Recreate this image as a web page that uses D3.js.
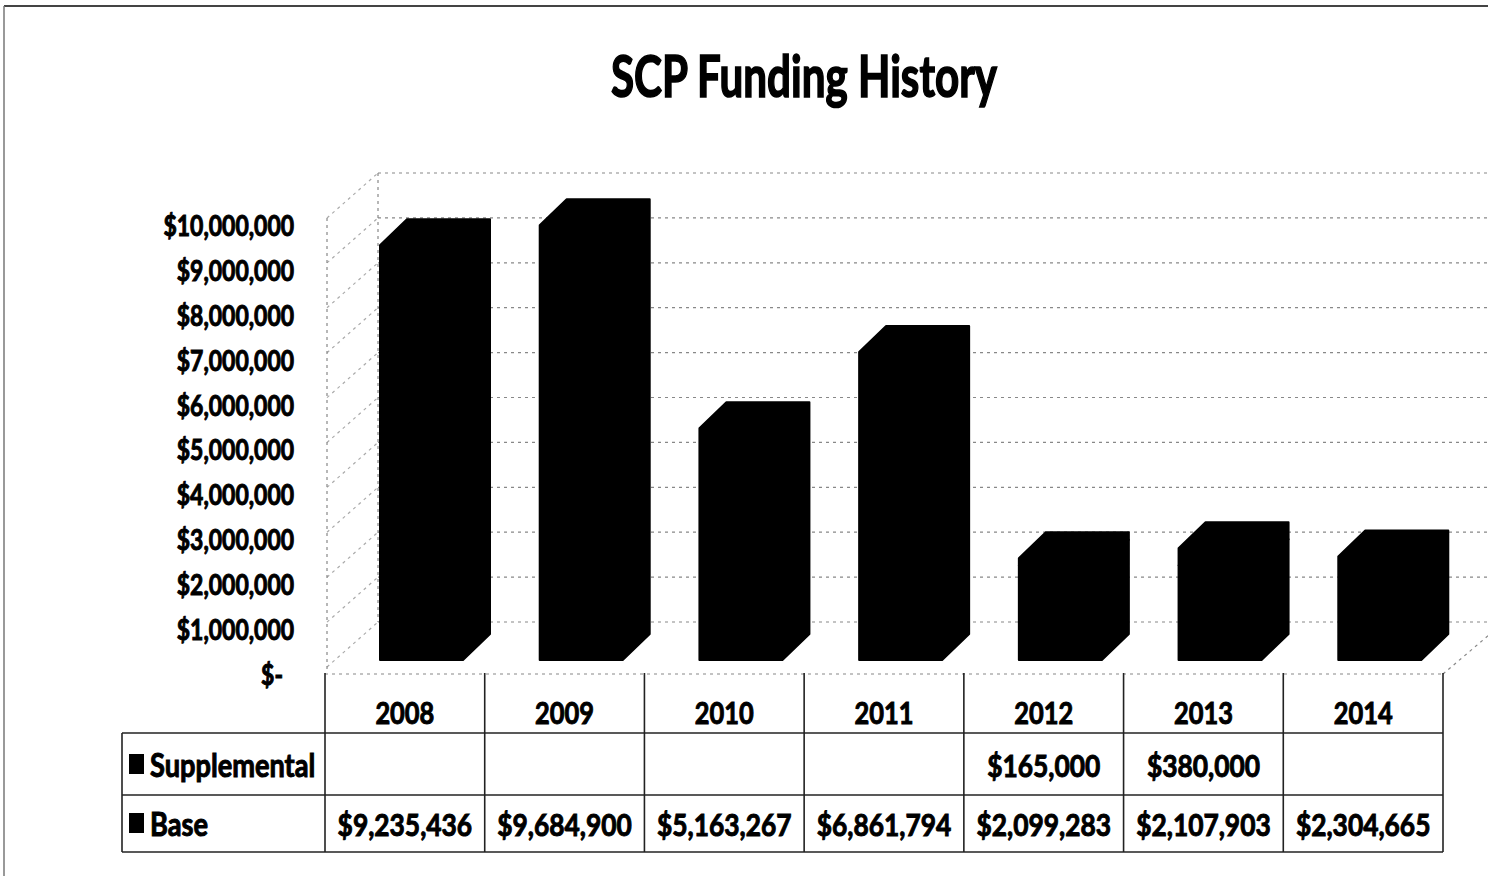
<!DOCTYPE html>
<html>
<head>
<meta charset="utf-8">
<script src="https://cdn.jsdelivr.net/npm/d3@7"></script>
<style>
  body { margin: 0; background: #fff; }
  text { font-family: Lato, "Open Sans", sans-serif; font-weight: bold; fill: #000; stroke: #000; stroke-width: 1; }
</style>
</head>
<body>
<svg id="chart" width="1488" height="876"></svg>
<script>
const years = ["2008", "2009", "2010", "2011", "2012", "2013", "2014"];
const base = [9235436, 9684900, 5163267, 6861794, 2099283, 2107903, 2304665];
const supplemental = [null, null, null, null, 165000, 380000, null];
const seriesNames = ["Supplemental", "Base"];
const yMax = 10000000;

const svg = d3.select("#chart");

// front plane of the 3d box
const x = d3.scaleBand().domain(years).range([325, 1443]);
const y = d3.scaleLinear().domain([0, yMax]).range([667, 218]);
const wall = { dx: 53, dy: -45 };   // front -> back wall
const barOff = { x: 55, y: -7, w: 83, dx: 27, dy: -26 };

const fmt = d3.format("$,");

// chart frame from the scan
svg.append("line").attr("x1", 4).attr("x2", 1488).attr("y1", 6).attr("y2", 6)
    .attr("stroke", "#444").attr("stroke-width", 2);
svg.append("line").attr("x1", 4).attr("x2", 4).attr("y1", 6).attr("y2", 876)
    .attr("stroke", "#777").attr("stroke-width", 1.5);

// title
svg.append("text")
    .attr("transform", "translate(804,97) scale(0.74,1)")
    .attr("text-anchor", "middle")
    .style("font-size", "57px")
    .style("stroke-width", 1.6)
    .text("SCP Funding History");

const grid = svg.append("g")
    .attr("fill", "none")
    .attr("stroke", "#888")
    .attr("stroke-width", 1.2)
    .attr("stroke-dasharray", "3,4");

const ticks = y.ticks(10);
const x0 = x.range()[0], x1 = x.range()[1];

// back wall lines
grid.selectAll(".back").data(ticks).join("line")
    .attr("x1", x0 + wall.dx).attr("x2", x1 + wall.dx)
    .attr("y1", d => y(d) + wall.dy).attr("y2", d => y(d) + wall.dy);

// side wall lines
grid.selectAll(".side").data(ticks).join("line")
    .attr("stroke", "#aaa")
    .attr("x1", x0 + 2).attr("x2", x0 + wall.dx)
    .attr("y1", d => y(d)).attr("y2", d => y(d) + wall.dy);

// wall edges + floor
grid.append("line").attr("x1", x0 + 2).attr("x2", x0 + 2)
    .attr("y1", y(yMax)).attr("y2", y(0) + 6);
grid.append("line").attr("x1", x0 + wall.dx).attr("x2", x0 + wall.dx)
    .attr("y1", y(yMax) + wall.dy).attr("y2", y(0) + wall.dy);
grid.append("line").attr("x1", x0).attr("x2", x1)
    .attr("y1", y(0) + 7).attr("y2", y(0) + 7);
grid.append("line").attr("x1", x1).attr("x2", x1 + wall.dx)
    .attr("y1", y(0) + 7).attr("y2", y(0) + 7 + wall.dy);

// y labels
svg.append("g").selectAll("text").data(ticks).join("text")
    .attr("transform", d => "translate(" + (d === 0 ? 283 : 294) + "," + (y(d) + 7) + ") scale(0.82,1)")
    .attr("text-anchor", "end")
    .attr("dominant-baseline", "central")
    .style("font-size", "28px")
    .text(d => d === 0 ? "$-" : fmt(d));

// stacked 3d bars
const segs = [];
years.forEach((yr, i) => {
    segs.push({ year: yr, v0: 0, v1: base[i] });
    if (supplemental[i]) segs.push({ year: yr, v0: base[i], v1: base[i] + supplemental[i] });
});

function barPoints(s) {
    const xl = x(s.year) + barOff.x, xr = xl + barOff.w;
    const yt = y(s.v1) + barOff.y, yb = y(s.v0) + barOff.y;
    return [[xl, yb], [xl, yt], [xl + barOff.dx, yt + barOff.dy], [xr + barOff.dx, yt + barOff.dy],
        [xr + barOff.dx, yb + barOff.dy], [xr, yb]].join(" ");
}

svg.append("g").selectAll("polygon").data(segs).join("polygon")
    .attr("points", barPoints)
    .attr("fill", "#000")
    .attr("stroke", "#000")
    .attr("stroke-width", 2)
    .attr("stroke-linejoin", "round");

// data table
const rowTop = [673, 733, 795, 852];
const tbl = svg.append("g").attr("stroke", "#222").attr("stroke-width", 1.6);
const cols = years.map(d => x(d)).concat([x1]);

tbl.selectAll(".v").data(cols).join("line")
    .attr("x1", d => d).attr("x2", d => d)
    .attr("y1", rowTop[0]).attr("y2", rowTop[3]);
tbl.append("line").attr("x1", 122).attr("x2", 122).attr("y1", rowTop[1]).attr("y2", rowTop[3]);
tbl.selectAll(".h").data(rowTop.slice(1)).join("line")
    .attr("x1", 122).attr("x2", x1)
    .attr("y1", d => d).attr("y2", d => d);

const cx = d => x(d) + x.bandwidth() / 2;

svg.append("g").selectAll("text").data(years).join("text")
    .attr("transform", d => "translate(" + cx(d) + ",724) scale(0.82,1)")
    .attr("text-anchor", "middle")
    .style("font-size", "31px")
    .text(d => d);

const rows = [
    { name: seriesNames[0], vals: supplemental, base: 777 },
    { name: seriesNames[1], vals: base, base: 836 }
];

rows.forEach(r => {
    svg.append("rect")
        .attr("x", 129).attr("y", r.base - 23)
        .attr("width", 15).attr("height", 20)
        .attr("fill", "#000");
    svg.append("text")
        .attr("transform", "translate(150," + r.base + ") scale(0.85,1)")
        .style("font-size", "32px")
        .text(r.name);
    svg.append("g").selectAll("text").data(years).join("text")
        .attr("transform", d => "translate(" + cx(d) + "," + r.base + ") scale(0.85,1)")
        .attr("text-anchor", "middle")
        .style("font-size", "31px")
        .text((d, i) => r.vals[i] == null ? "" : fmt(r.vals[i]));
});
</script>
</body>
</html>
